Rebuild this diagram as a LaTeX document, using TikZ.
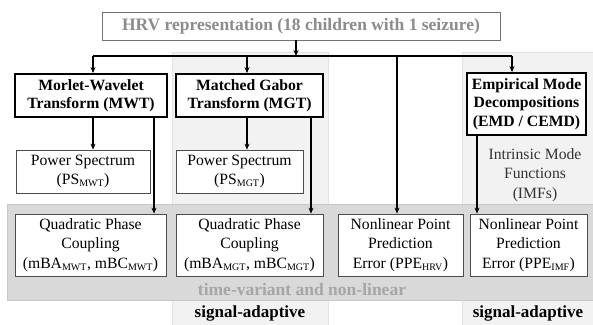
\documentclass[tikz,border=0pt]{standalone}
\usepackage{fontspec}
\setmainfont{Liberation Serif}
\newfontfamily\serifface{Liberation Serif}
\usetikzlibrary{arrows.meta}
\definecolor{colbg}{HTML}{F2F2F2}
\definecolor{colline}{HTML}{E2E2E2}
\definecolor{bandbg}{HTML}{D9D9D9}
\definecolor{bandline}{HTML}{C8C8C8}
\definecolor{titlegray}{HTML}{8C8C8C}
\definecolor{bandtext}{HTML}{A6A6A6}
\tikzset{
  basefont/.style={font=\serifface\fontsize{15.7}{19.5}\selectfont},
  boldfont/.style={font=\serifface\fontsize{15.7}{18.5}\selectfont\bfseries},
  bigbold/.style={font=\serifface\fontsize{17.5}{20}\selectfont\bfseries},
  plainbox/.style={basefont, draw=black!70, line width=0.8pt, fill=white,
    align=center, inner sep=0pt},
  boldbox/.style={boldfont, draw=black, line width=1.8pt, fill=white,
    align=center, inner sep=0pt},
  arr/.style={-{Stealth[length=6pt,width=5pt]}, line width=1.2pt, black},
  link/.style={line width=1.2pt, black},
}
\newcommand{\sbs}[1]{\textsubscript{\fontsize{10}{10}\selectfont #1}}
\begin{document}
\begin{tikzpicture}[x=1pt, y=-1pt]
  \useasboundingbox (0,0) rectangle (593,324);
  % shaded columns of the signal-adaptive methods
  \fill[colbg, draw=colline] (172,52) rectangle (328,326);
  \fill[colbg, draw=colline] (462,52) rectangle (595,326);
  % band of time-variant and non-linear measures
  \fill[bandbg, draw=bandline] (7,204) rectangle (595,300);
  \node[bigbold, text=bandtext] (bandlabel) at (302,290) {time-variant and non-linear};
  \node[bigbold, font=\serifface\fontsize{17}{20}\selectfont\bfseries] (sa1) at (250,313) {signal-adaptive};
  \node[bigbold, font=\serifface\fontsize{17}{20}\selectfont\bfseries] (sa2) at (528,313) {signal-adaptive};

  % top node
  \node[bigbold, draw=black!55, line width=0.8pt, fill=white, inner sep=0pt,
        minimum width=398pt, minimum height=28pt, text=titlegray]
    (hrv) at (301,26) {HRV representation (18 children with 1 seizure)};

  % transforms
  \node[boldbox, minimum width=152pt, minimum height=43pt] (mwt) at (91,95.5)
    {Morlet-Wavelet\\Transform (MWT)};
  \node[boldbox, minimum width=147pt, minimum height=43pt] (mgt) at (249.5,95.5)
    {Matched Gabor\\Transform (MGT)};
  \node[boldbox, minimum width=119pt, minimum height=62pt] (emd) at (526.5,104)
    {Empirical Mode\\Decompositions\\(EMD / CEMD)};

  % power spectra and intrinsic mode functions
  \node[plainbox, minimum width=134pt, minimum height=43pt] (psw) at (83,171.5)
    {Power Spectrum\\(PS\sbs{MWT})};
  \node[plainbox, minimum width=127pt, minimum height=43pt] (psg) at (239.5,171.5)
    {Power Spectrum\\(PS\sbs{MGT})};
  \node[basefont, align=center, text=black!80, inner sep=0pt] (imf) at (535,175)
    {Intrinsic Mode\\Functions\\(IMFs)};

  % measures
  \node[plainbox, minimum width=151pt, minimum height=62pt] (qpw) at (90.5,245)
    {Quadratic Phase\\Coupling\\(mBA\sbs{MWT}, mBC\sbs{MWT})};
  \node[plainbox, minimum width=147pt, minimum height=62pt] (qpg) at (249.5,245)
    {Quadratic Phase\\Coupling\\(mBA\sbs{MGT}, mBC\sbs{MGT})};
  \node[plainbox, minimum width=125pt, minimum height=62pt] (ppeh) at (400.5,245)
    {Nonlinear Point\\Prediction\\Error (PPE\sbs{HRV})};
  \node[plainbox, minimum width=117pt, minimum height=62pt] (ppei) at (528.5,245)
    {Nonlinear Point\\Prediction\\Error (PPE\sbs{IMF})};

  % distribution line
  \coordinate (busL) at (93,56);
  \coordinate (busR) at (512,56);
  \draw[arr] ([xshift=-5pt]hrv.south) -- ([xshift=-5pt]hrv.south |- busL);
  \draw[link] (busL) -- (busR);
  \draw[arr] (busL) -- (busL |- mwt.north);
  \draw[arr] (busL -| 247,0) -- ([xshift=-2.5pt]mgt.north);
  \draw[arr] (busL -| 397,0) -- ([xshift=-3.5pt]ppeh.north);
  \draw[arr] (busR) -- (busR |- emd.north);

  % vertical connectors
  \draw[arr] ([xshift=2pt]mwt.south) -- ([xshift=2pt]mwt.south |- psw.north);
  \draw[arr] ([xshift=63pt]mwt.south) -- ([xshift=63pt]mwt.south |- qpw.north);
  \draw[arr] ([xshift=-2.5pt]mgt.south) -- ([xshift=-2.5pt]mgt.south |- psg.north);
  \draw[arr] ([xshift=61.5pt]mgt.south) -- ([xshift=61.5pt]mgt.south |- qpg.north);
  \draw[arr] ([xshift=-49.5pt]emd.south) -- ([xshift=-49.5pt]emd.south |- ppei.north);
\end{tikzpicture}
\end{document}
